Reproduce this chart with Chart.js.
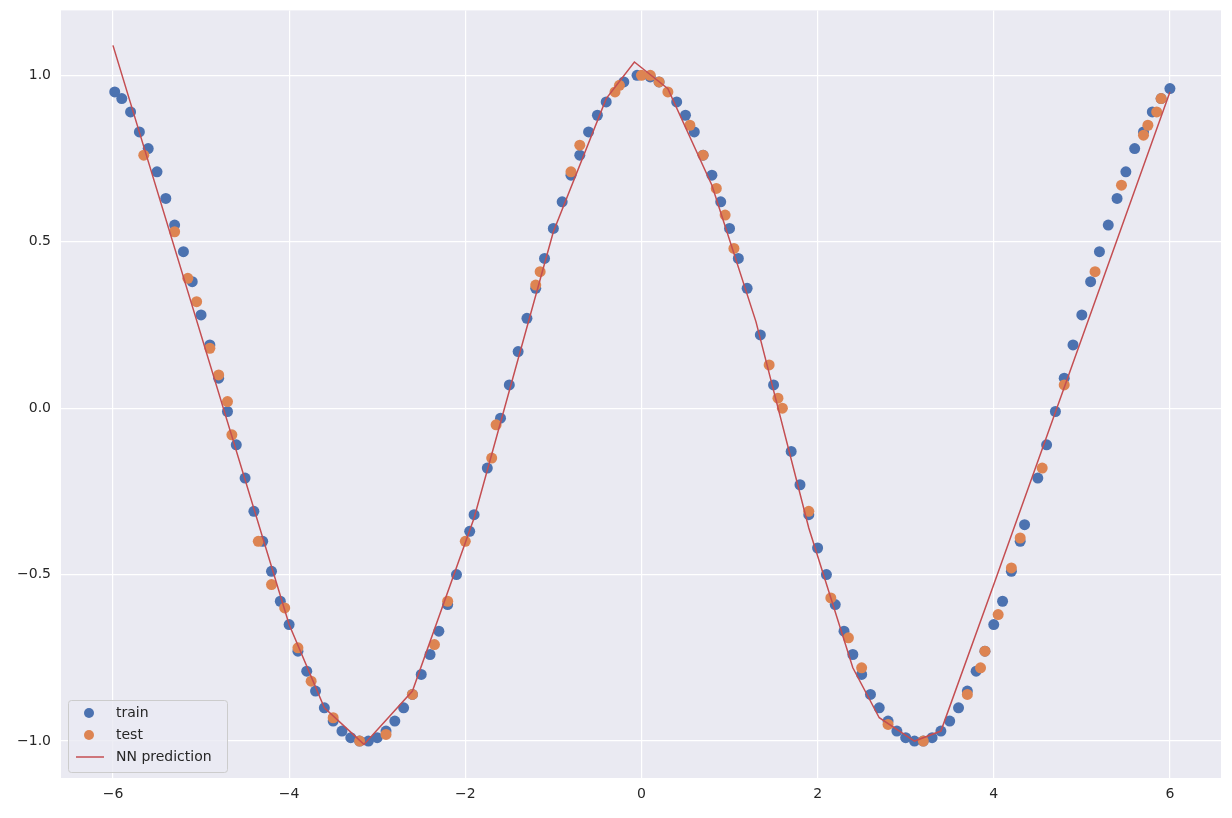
<!DOCTYPE html>
<html><head><meta charset="utf-8">
<script src="https://cdn.jsdelivr.net/npm/chart.js@4/dist/chart.umd.min.js"></script>
<style>html,body{margin:0;padding:0;background:#fff;overflow:hidden}#w{width:1232px;height:826px;margin-top:-8px}</style>
</head><body><div id="w"><canvas id="c"></canvas></div>
<script>
const trainX=[-5.98,-5.9,-5.8,-5.7,-5.6,-5.5,-5.4,-5.3,-5.2,-5.1,-5.0,-4.9,-4.8,-4.7,-4.6,-4.5,-4.4,-4.3,-4.2,-4.1,-4.0,-3.9,-3.8,-3.7,-3.6,-3.5,-3.4,-3.3,-3.2,-3.1,-3.0,-2.9,-2.8,-2.7,-2.6,-2.5,-2.4,-2.3,-2.2,-2.1,-1.95,-1.9,-1.75,-1.6,-1.5,-1.4,-1.3,-1.2,-1.1,-1.0,-0.9,-0.8,-0.7,-0.6,-0.5,-0.4,-0.2,-0.05,0.1,0.2,0.4,0.5,0.6,0.7,0.8,0.9,1.0,1.1,1.2,1.35,1.5,1.7,1.8,1.9,2.0,2.1,2.2,2.3,2.4,2.5,2.6,2.7,2.8,2.9,3.0,3.1,3.2,3.3,3.4,3.5,3.6,3.7,3.8,3.9,4.0,4.1,4.2,4.3,4.35,4.5,4.6,4.7,4.8,4.9,5.0,5.1,5.2,5.3,5.4,5.5,5.6,5.7,5.8,5.9,6.0];
const trainY=[0.95,0.93,0.89,0.83,0.78,0.71,0.63,0.55,0.47,0.38,0.28,0.19,0.09,-0.01,-0.11,-0.21,-0.31,-0.40,-0.49,-0.58,-0.65,-0.73,-0.79,-0.85,-0.90,-0.94,-0.97,-0.99,-1.0,-1.0,-0.99,-0.97,-0.94,-0.90,-0.86,-0.80,-0.74,-0.67,-0.59,-0.50,-0.37,-0.32,-0.18,-0.03,0.07,0.17,0.27,0.36,0.45,0.54,0.62,0.70,0.76,0.83,0.88,0.92,0.98,1.0,0.995,0.98,0.92,0.88,0.83,0.76,0.70,0.62,0.54,0.45,0.36,0.22,0.07,-0.13,-0.23,-0.32,-0.42,-0.50,-0.59,-0.67,-0.74,-0.80,-0.86,-0.90,-0.94,-0.97,-0.99,-1.0,-1.0,-0.99,-0.97,-0.94,-0.90,-0.85,-0.79,-0.73,-0.65,-0.58,-0.49,-0.40,-0.35,-0.21,-0.11,-0.01,0.09,0.19,0.28,0.38,0.47,0.55,0.63,0.71,0.78,0.83,0.89,0.93,0.96];
const testX=[-5.65,-5.3,-5.15,-5.05,-4.9,-4.8,-4.7,-4.65,-4.35,-4.2,-4.05,-3.9,-3.75,-3.5,-3.2,-2.9,-2.6,-2.35,-2.2,-2.0,-1.7,-1.65,-1.2,-1.15,-0.8,-0.7,-0.3,-0.25,0.0,0.1,0.2,0.3,0.55,0.7,0.85,0.95,1.05,1.45,1.55,1.6,1.9,2.15,2.35,2.5,2.8,3.2,3.7,3.85,3.9,4.05,4.2,4.3,4.55,4.8,5.15,5.45,5.7,5.75,5.85,5.9];
const testY=[0.76,0.53,0.39,0.32,0.18,0.10,0.02,-0.08,-0.40,-0.53,-0.60,-0.72,-0.82,-0.93,-1.0,-0.98,-0.86,-0.71,-0.58,-0.40,-0.15,-0.05,0.37,0.41,0.71,0.79,0.95,0.97,1.0,1.0,0.98,0.95,0.85,0.76,0.66,0.58,0.48,0.13,0.03,0.0,-0.31,-0.57,-0.69,-0.78,-0.95,-1.0,-0.86,-0.78,-0.73,-0.62,-0.48,-0.39,-0.18,0.07,0.41,0.67,0.82,0.85,0.89,0.93];
const predX=[-6,-4.0,-3.6,-3.15,-2.6,-1.9,-1.0,-0.4,-0.08,0.3,0.8,1.3,1.9,2.4,2.7,3.1,3.4,4.0,5.0,6.0];
const predY=[1.09,-0.65,-0.90,-1.01,-0.85,-0.33,0.53,0.93,1.04,0.96,0.67,0.26,-0.36,-0.78,-0.93,-1.0,-0.97,-0.53,0.21,0.95];
const xTicks=[-6,-4,-2,0,2,4,6];
const yTicks=[-1,-0.5,0,0.5,1];
const zip=(a,b)=>a.map((v,i)=>({x:v,y:b[i]}));
const FONT='"DejaVu Sans", sans-serif';
const bg={id:'bg',beforeDraw(c){const a=c.chartArea,x=c.ctx;x.save();x.fillStyle='#EAEAF2';x.fillRect(a.left,a.top,a.right-a.left,a.bottom-a.top);x.restore();}};
const leg={id:'leg',afterDraw(c){const x=c.ctx;x.save();const L=68,T=708,W=159,H=72;
x.fillStyle='rgba(234,234,242,0.8)';x.strokeStyle='#cccccc';x.lineWidth=1;
x.beginPath();x.roundRect(L+0.5,T+0.5,W,H,3);x.fill();x.stroke();
x.font='14px '+FONT;x.fillStyle='#262626';x.textBaseline='middle';
const it=[['train','#4C72B0','p'],['test','#DD8452','p'],['NN prediction','#C44E52','l']];
it.forEach((t,i)=>{const y=T+13+i*22;
if(t[2]==='p'){x.fillStyle=t[1];x.beginPath();x.arc(89,y,5,0,Math.PI*2);x.fill();}
else{x.strokeStyle=t[1];x.lineWidth=1.5;x.beginPath();x.moveTo(76,y);x.lineTo(104,y);x.stroke();}
x.fillStyle='#262626';x.fillText(t[0],116,y);});x.restore();}};
new Chart(document.getElementById('c'),{
type:'scatter',
data:{datasets:[
{label:'NN prediction',type:'line',data:zip(predX,predY),borderColor:'#C44E52',borderWidth:1.5,pointRadius:0,fill:false,tension:0,order:0},
{label:'test',data:zip(testX,testY),backgroundColor:'#DD8452',borderWidth:0,pointRadius:5.5,order:1},
{label:'train',data:zip(trainX,trainY),backgroundColor:'#4C72B0',borderWidth:0,pointRadius:5.5,order:2}
]},
options:{responsive:true,maintainAspectRatio:false,animation:false,
layout:{padding:{top:0,right:11,left:0,bottom:0}},
plugins:{legend:{display:false},tooltip:{enabled:false}},
scales:{
x:{type:'linear',min:-6.59,max:6.58,border:{display:false},
grid:{color:'#ffffff',lineWidth:1.2,drawTicks:false},
afterBuildTicks:s=>{s.ticks=xTicks.map(v=>({value:v}));},
afterFit:s=>{s.height=40;},
ticks:{color:'#262626',font:{size:14,family:FONT},padding:8,callback:v=>(v<0?'\u2212':'')+Math.abs(v)}},
y:{type:'linear',min:-1.111,max:1.195,border:{display:false},
grid:{color:'#ffffff',lineWidth:1.2,drawTicks:false},
afterBuildTicks:s=>{s.ticks=yTicks.map(v=>({value:v}));},
afterFit:s=>{s.width=61;},
ticks:{color:'#262626',font:{size:14,family:FONT},padding:10,callback:v=>(v<0?'\u2212':'')+Math.abs(v).toFixed(1)}}
}},
plugins:[bg,leg]});
</script></body></html>
